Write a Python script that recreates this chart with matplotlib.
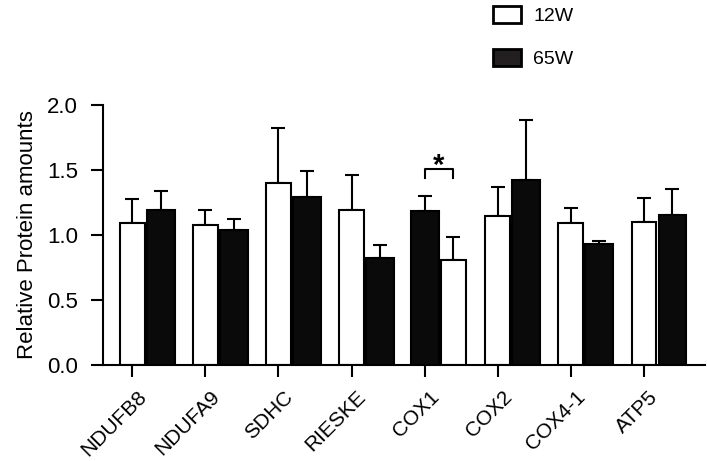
import numpy as np
import matplotlib
matplotlib.use("Agg")
import matplotlib.pyplot as plt
from matplotlib.patches import Rectangle
from matplotlib.transforms import ScaledTranslation

plt.rcParams['font.family'] = ['Liberation Sans', 'DejaVu Sans']

# data
proteins = ["NDUFB8", "NDUFA9", "SDHC", "RIESKE", "COX1", "COX2", "COX4-1", "ATP5"]
w12_mean = [1.095, 1.08, 1.40, 1.19, 0.81, 1.145, 1.09, 1.10]
w12_err = [0.18, 0.11, 0.42, 0.27, 0.175, 0.225, 0.12, 0.185]
w65_mean = [1.19, 1.04, 1.29, 0.825, 1.187, 1.425, 0.933, 1.154]
w65_err = [0.15, 0.08, 0.20, 0.10, 0.11, 0.46, 0.023, 0.20]
# in the original panel the 65W bar comes first for COX1
swapped = ["COX1"]
sig_pairs = ["COX1"]

fig = plt.figure(figsize=(7.08, 4.61), dpi=100)
ax = fig.add_axes([103 / 708, 96 / 461, 602 / 708, 260 / 461])

lw = 1.5
offset = 0.39
x = np.arange(len(proteins))
first = np.array([p in swapped for p in proteins])
x12 = np.where(first, x + offset, x)
x65 = np.where(first, x, x + offset)

ax.bar(x12, w12_mean, 0.34, color="white", edgecolor="black", linewidth=lw, zorder=2)
ax.bar(x65, w65_mean, 0.38, color="#0a0a0a", edgecolor="black", linewidth=lw, zorder=2)
ax.errorbar(x12, w12_mean, yerr=[np.zeros(len(x)), w12_err], fmt="none",
            ecolor="black", elinewidth=lw, capsize=5.2, capthick=lw, zorder=1)
ax.errorbar(x65, w65_mean, yerr=[np.zeros(len(x)), w65_err], fmt="none",
            ecolor="black", elinewidth=lw, capsize=5.2, capthick=lw, zorder=1)

# significance bracket
for p in sig_pairs:
    i = proteins.index(p)
    ax.plot([i, i, i + offset, i + offset], [1.44, 1.505, 1.505, 1.44],
            color="black", lw=lw, clip_on=False)
    ax.text(i + offset / 2, 1.47, "*", ha="center", va="baseline",
            fontsize=21, fontweight="bold")

ax.set_xlim(-0.40, 7.835)
ax.set_ylim(0, 2.0)
ax.set_yticks([0, 0.5, 1.0, 1.5, 2.0])
ax.set_yticklabels(["0.0", "0.5", "1.0", "1.5", "2.0"])
ax.set_xticks(x)
ax.set_ylabel("Relative Protein amounts", fontsize=16)
ax.yaxis.set_label_coords(-0.108, 0.5)
ax.tick_params(axis="both", width=lw, length=8.6)
ax.tick_params(axis="y", labelsize=16, pad=9.4)
ax.tick_params(axis="x", labelsize=15, pad=15)
for s in ["top", "right"]:
    ax.spines[s].set_visible(False)
for s in ["left", "bottom"]:
    ax.spines[s].set_linewidth(lw)

# rotated labels, nudged right like the original
ax.set_xticklabels(proteins, rotation=45, ha="right", va="baseline",
                   rotation_mode="anchor")
shift = ScaledTranslation(0.15, 0, fig.dpi_scale_trans)
for lab in ax.get_xticklabels():
    lab.set_transform(lab.get_transform() + shift)

handles = [Rectangle((0, 0), 1, 1, facecolor="white", edgecolor="black", lw=2),
           Rectangle((0, 0), 1, 1, facecolor="#231f20", edgecolor="black", lw=2)]
fig.legend(handles, ["12W", "65W"], loc="upper left",
           bbox_to_anchor=(493 / 708, 455 / 461), borderpad=0, borderaxespad=0,
           frameon=False, fontsize=14, handlelength=1.44, handleheight=0.98,
           labelspacing=1.2, handletextpad=0.62)

fig.savefig("out.png", dpi=100)
